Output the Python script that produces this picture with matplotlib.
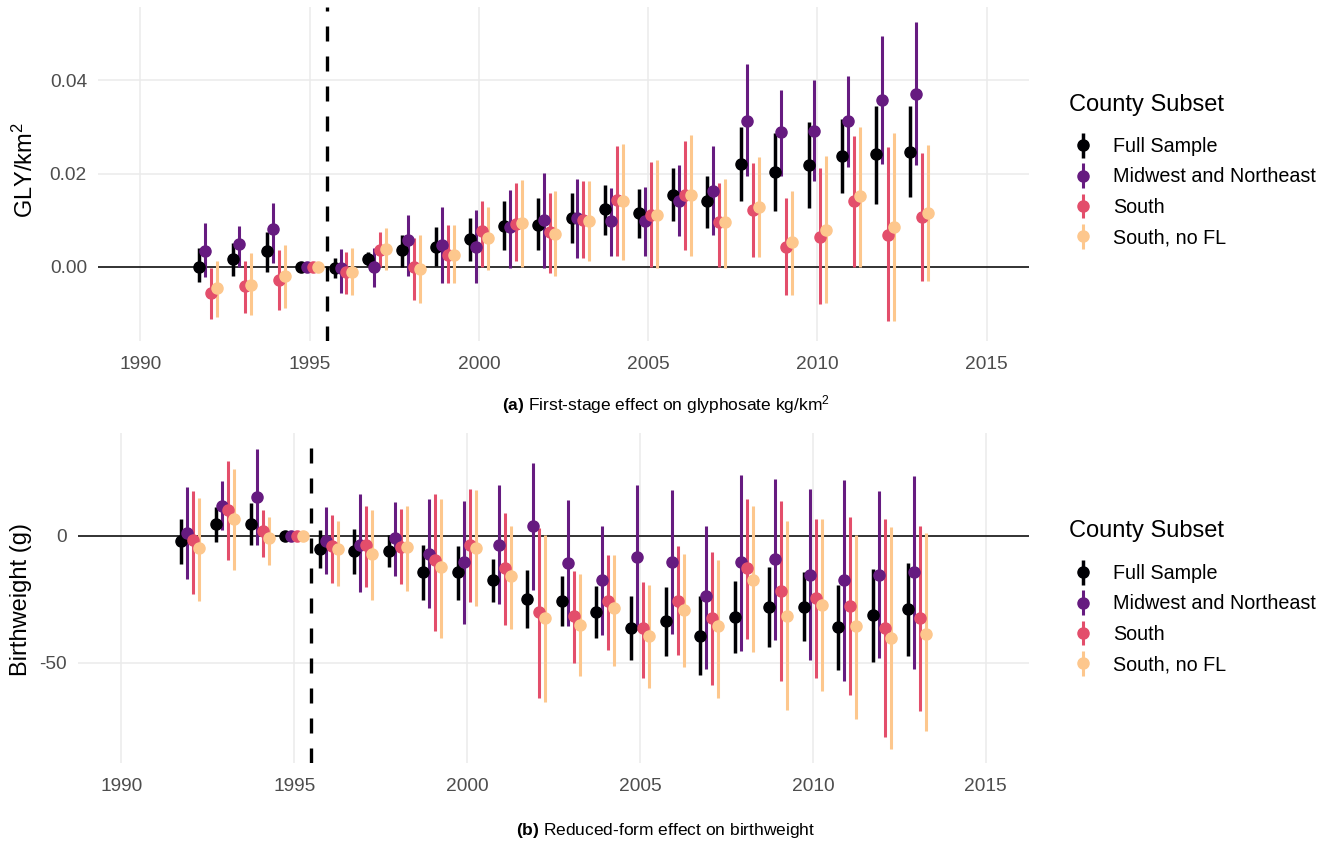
import matplotlib

matplotlib.use("Agg")
import matplotlib.pyplot as plt
import numpy as np
from matplotlib.legend_handler import HandlerErrorbar

plt.rcParams["font.family"] = ["Liberation Sans", "DejaVu Sans"]
plt.rcParams["axes.unicode_minus"] = False
plt.rcParams["mathtext.fontset"] = "custom"
plt.rcParams["mathtext.rm"] = "Liberation Sans"
plt.rcParams["mathtext.bf"] = "Liberation Sans:bold"
plt.rcParams["mathtext.default"] = "regular"

years = list(range(1992, 2014))
subsets = ["Full Sample", "Midwest and Northeast", "South", "South, no FL"]
colors = ["#000004", "#661B80", "#E34E6B", "#FDC78D"]
offsets = [-0.26, -0.087, 0.087, 0.26]

# (a) first stage, glyphosate kg/km^2
gly_full = [0.0000, 0.0016, 0.0034, 0, -0.0003, 0.0016, 0.0036, 0.0042, 0.0059, 0.0088, 0.0090,
            0.0104, 0.0123, 0.0115, 0.0154, 0.0140, 0.0221, 0.0204, 0.0219, 0.0238, 0.0242, 0.0247]
gly_full_lo = [-0.0034, -0.0020, -0.0011, 0, -0.0025, 0.0002, -0.0001, 0.0001, 0.0011, 0.0036, 0.0036,
               0.0050, 0.0068, 0.0061, 0.0097, 0.0083, 0.0140, 0.0120, 0.0126, 0.0158, 0.0135, 0.0149]
gly_full_hi = [0.0040, 0.0050, 0.0075, 0, 0.0019, 0.0032, 0.0068, 0.0084, 0.0104, 0.0141, 0.0147,
               0.0158, 0.0176, 0.0166, 0.0212, 0.0195, 0.0301, 0.0287, 0.0310, 0.0317, 0.0346, 0.0346]

gly_mwne = [0.0034, 0.0048, 0.0080, 0, -0.0003, 0.0000, 0.0057, 0.0047, 0.0043, 0.0084, 0.0100,
            0.0104, 0.0097, 0.0097, 0.0140, 0.0163, 0.0314, 0.0290, 0.0292, 0.0312, 0.0358, 0.0371]
gly_mwne_lo = [-0.0022, 0.0000, 0.0007, 0, -0.0056, -0.0043, -0.0021, -0.0036, -0.0036, -0.0004, -0.0004,
               0.0018, 0.0023, 0.0023, 0.0065, 0.0068, 0.0194, 0.0194, 0.0183, 0.0215, 0.0221, 0.0219]
gly_mwne_hi = [0.0093, 0.0088, 0.0136, 0, 0.0037, 0.0040, 0.0111, 0.0128, 0.0122, 0.0165, 0.0201,
               0.0188, 0.0169, 0.0171, 0.0219, 0.0260, 0.0435, 0.0380, 0.0400, 0.0409, 0.0496, 0.0525]

gly_south = [-0.0057, -0.0042, -0.0029, 0, -0.0011, 0.0035, 0.0000, 0.0025, 0.0077, 0.0092, 0.0075,
             0.0100, 0.0143, 0.0111, 0.0154, 0.0095, 0.0122, 0.0043, 0.0063, 0.0140, 0.0068, 0.0106]
gly_south_lo = [-0.0113, -0.0099, -0.0093, 0, -0.0059, 0.0000, -0.0072, -0.0036, 0.0000, 0.0011, -0.0014,
                0.0018, 0.0023, 0.0000, 0.0036, 0.0000, 0.0020, -0.0061, -0.0080, 0.0000, -0.0118, -0.0030]
gly_south_hi = [-0.0003, 0.0011, 0.0036, 0, 0.0032, 0.0075, 0.0061, 0.0090, 0.0141, 0.0179, 0.0159,
                0.0183, 0.0260, 0.0224, 0.0271, 0.0179, 0.0222, 0.0147, 0.0212, 0.0280, 0.0258, 0.0244]

gly_nofl = [-0.0047, -0.0039, -0.0020, 0, -0.0011, 0.0037, -0.0006, 0.0025, 0.0061, 0.0093, 0.0070,
            0.0097, 0.0140, 0.0111, 0.0154, 0.0095, 0.0129, 0.0052, 0.0079, 0.0151, 0.0084, 0.0116]
gly_nofl_lo = [-0.0108, -0.0104, -0.0089, 0, -0.0061, -0.0007, -0.0079, -0.0036, -0.0007, 0.0000, -0.0021,
               0.0011, 0.0014, -0.0004, 0.0022, -0.0004, 0.0020, -0.0061, -0.0079, 0.0000, -0.0118, -0.0030]
gly_nofl_hi = [0.0011, 0.0029, 0.0047, 0, 0.0040, 0.0083, 0.0068, 0.0090, 0.0129, 0.0186, 0.0163,
               0.0183, 0.0264, 0.0230, 0.0283, 0.0188, 0.0235, 0.0163, 0.0237, 0.0301, 0.0287, 0.0262]

# (b) reduced form, birthweight in grams
bw_full = [-2.2, 4.6, 4.6, 0, -5.2, -6.2, -6.2, -14.4, -14.4, -17.6, -24.9,
           -25.9, -30.2, -36.3, -33.7, -39.6, -32.2, -28.1, -28.1, -35.9, -31.1, -28.9]
bw_full_lo = [-11.0, -2.6, -3.5, 0, -12.7, -15.0, -12.3, -25.2, -25.2, -26.2, -36.3,
              -35.7, -40.3, -48.8, -47.2, -54.7, -46.2, -43.9, -41.6, -52.8, -49.9, -47.2]
bw_full_hi = [6.6, 11.3, 12.9, 0, 2.4, 2.6, 0.4, -3.5, -3.9, -9.2, -13.7,
              -16.0, -20.0, -23.9, -20.2, -23.9, -18.0, -12.3, -14.4, -19.3, -13.1, -10.8]

bw_mwne = [1.0, 11.8, 15.1, 0, -2.2, -3.5, -0.9, -7.1, -10.5, -3.5, 3.7,
           -10.8, -17.6, -8.5, -10.5, -23.9, -10.5, -9.2, -15.4, -17.6, -15.4, -14.4]
bw_mwne_lo = [-17.1, 2.4, -3.5, 0, -15.0, -22.3, -15.7, -28.5, -34.6, -26.8, -21.5,
              -35.7, -39.0, -37.0, -38.6, -52.5, -45.5, -41.2, -48.8, -57.4, -48.2, -52.5]
bw_mwne_hi = [19.2, 21.7, 34.1, 0, 11.3, 16.5, 13.1, 14.4, 13.5, 20.1, 28.6,
              14.2, 3.7, 20.1, 18.1, 3.9, 24.0, 22.3, 18.4, 22.0, 17.5, 23.3]

bw_south = [-1.6, 10.2, 1.7, 0, -4.2, -3.5, -4.5, -9.4, -3.5, -12.7, -30.2,
            -31.8, -25.9, -36.3, -25.9, -32.4, -12.7, -21.9, -24.5, -27.6, -36.3, -32.4]
bw_south_lo = [-22.8, -9.7, -8.4, 0, -18.6, -20.2, -19.2, -37.7, -26.2, -35.0, -63.9,
               -50.1, -45.2, -56.0, -46.9, -58.7, -40.7, -57.4, -56.0, -62.6, -79.3, -69.2]
bw_south_hi = [17.4, 29.5, 10.2, 0, 8.3, 11.8, 10.6, 16.5, 18.4, 8.9, 3.0,
               -14.0, -7.5, -18.4, -4.2, -6.6, 14.6, 13.5, 6.6, 7.3, 6.6, 3.9]

bw_nofl = [-4.9, 6.6, -0.9, 0, -5.2, -7.1, -4.5, -12.3, -4.9, -16.0, -32.4,
           -35.0, -28.5, -39.6, -29.1, -35.7, -17.3, -31.8, -27.2, -35.7, -40.3, -38.6]
bw_nofl_lo = [-25.9, -13.7, -11.4, 0, -19.7, -25.5, -21.9, -40.3, -27.8, -36.7, -65.6,
              -55.4, -51.4, -59.9, -51.7, -63.9, -45.9, -68.8, -61.3, -72.2, -83.9, -77.0]
bw_nofl_hi = [14.8, 26.2, 7.3, 0, 5.6, 10.2, 11.8, 14.4, 18.0, 3.7, 0.4,
              -15.0, -7.5, -19.3, -7.1, -9.7, 11.8, 5.6, 6.6, 0.4, 3.4, 1.1]

W, H = 1331, 848
fig = plt.figure(figsize=(W / 100, H / 100), dpi=100)


def px_box(left, top, right, bottom):
    return [left / W, 1 - bottom / H, (right - left) / W, (bottom - top) / H]


def event_panel(ax, series, ylim, yticks, yfmt):
    x = np.array(years, dtype=float)
    handles = []
    for (est, lo, hi), off, col in zip(series, offsets, colors):
        est, lo, hi = map(np.asarray, (est, lo, hi))
        lw = 2.5 if col == colors[0] else 2.2
        eb = ax.errorbar(x + off, est, yerr=[est - lo, hi - est], fmt="o", color=col,
                         ms=8, elinewidth=lw, capsize=0)
        eb[0].set_zorder(4)
        for lc in eb[2]:
            lc.set_zorder(3)
        handles.append(eb)
    ax.axhline(0, color="black", lw=1.1, zorder=2)
    ax.axvline(1995.5, color="black", lw=2.4, dashes=(4.5, 4.5), zorder=2)
    ax.set_xlim(1988.75, 2016.25)
    ax.set_ylim(*ylim)
    ax.set_xticks(range(1990, 2016, 5))
    ax.set_yticks(yticks)
    ax.set_yticklabels([yfmt.format(v) for v in yticks])
    ax.tick_params(length=0, labelsize=13.8, colors="#4D4D4D")
    ax.tick_params(axis="x", pad=11)
    ax.tick_params(axis="y", pad=8)
    ax.grid(True, color="#EBEBEB", lw=1.1)
    ax.set_axisbelow(True)
    for s in ax.spines.values():
        s.set_visible(False)
    return handles


def subset_legend(ax, handles, title_y, first_y):
    fig.text(1069 / W, 1 - title_y / H, "County Subset", fontsize=17, ha="left", va="center")
    ax.legend(handles, subsets, loc="upper left", bbox_to_anchor=(1069 / W, 1 - first_y / H),
              bbox_transform=fig.transFigure, frameon=False, borderpad=0, borderaxespad=0,
              handlelength=1.4, handletextpad=0.82, labelspacing=0.58, fontsize=14.2,
              handler_map={type(handles[0]): HandlerErrorbar(yerr_size=0.63)})


ax_a = fig.add_axes(px_box(98, 7, 1029, 341))
h_a = event_panel(
    ax_a,
    [(gly_full, gly_full_lo, gly_full_hi), (gly_mwne, gly_mwne_lo, gly_mwne_hi),
     (gly_south, gly_south_lo, gly_south_hi), (gly_nofl, gly_nofl_lo, gly_nofl_hi)],
    (-0.016, 0.0558), [0.0, 0.02, 0.04], "{:.2f}")
fig.text(25 / W, 1 - 170 / H, "GLY/km$^2$", rotation=90, ha="center", va="center", fontsize=17)
subset_legend(ax_a, h_a, 105, 137)
fig.text(0.5, 1 - 405 / H, r"$\mathbf{(a)}$ First-stage effect on glyphosate kg/km$^2$",
         ha="center", va="center", fontsize=12.5)

ax_b = fig.add_axes(px_box(78, 433, 1029, 763))
h_b = event_panel(
    ax_b,
    [(bw_full, bw_full_lo, bw_full_hi), (bw_mwne, bw_mwne_lo, bw_mwne_hi),
     (bw_south, bw_south_lo, bw_south_hi), (bw_nofl, bw_nofl_lo, bw_nofl_hi)],
    (-89.5, 40.4), [-50, 0], "{:d}")
fig.text(21 / W, 1 - 600 / H, "Birthweight (g)", rotation=90, ha="center", va="center", fontsize=17)
subset_legend(ax_b, h_b, 531, 564)
fig.text(0.5, 1 - 830 / H, r"$\mathbf{(b)}$ Reduced-form effect on birthweight",
         ha="center", va="center", fontsize=12.5)

fig.savefig("out.png", dpi=100)
